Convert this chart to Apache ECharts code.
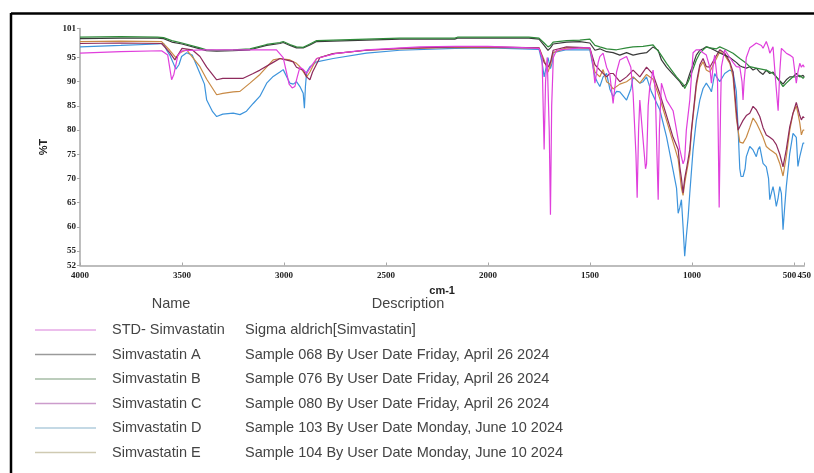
<!DOCTYPE html>
<html>
<head>
<meta charset="utf-8">
<script src="https://cdn.jsdelivr.net/npm/echarts@6/dist/echarts.min.js"></script>
<style>
html,body{margin:0;padding:0;background:#fff;}
#chart{width:814px;height:473px;}
</style>
</head>
<body>
<div id="chart"></div>
<script>
// ---- tick labels ----
const xTicks = [4000, 3500, 3000, 2500, 2000, 1500, 1000, 500, 450];
const xEndTick = [450];
const yTicks = [52, 55, 60, 65, 70, 75, 80, 85, 90, 95, 101];

// ---- legend table ----
const seriesNames = ['STD- Simvastatin', 'Simvastatin A', 'Simvastatin B', 'Simvastatin C', 'Simvastatin D', 'Simvastatin E'];
const descriptions = [
  'Sigma aldrich[Simvastatin]',
  'Sample 068 By User Date Friday, April 26 2024',
  'Sample 076 By User Date Friday, April 26 2024',
  'Sample 080 By User Date Friday, April 26 2024',
  'Sample 103 By User Date Monday, June 10 2024',
  'Sample 104 By User Date Monday, June 10 2024'
];

// ---- STD- Simvastatin ----
const stdWn = [4000,3800,3600,3570,3551,3540,3520,3500,3400,3200,3037,3004,2975,2960,2947,2935,2922,2905,2889,2870,2840,2750,2596,2334,2163,2000,1800,1750,1735,1725,1718,1710,1700,1694,1688,1680,1664,1550,1501,1490,1476,1460,1452,1436,1419,1403,1387,1370,1354,1321,1300,1289,1275,1269,1262,1256,1240,1228,1223,1215,1207,1191,1180,1172,1166,1160,1150,1125,1093,1076,1060,1044,1036,1028,1011,995,979,962,946,930,913,905,895,889,875,867,860,856,840,832,815,799,783,766,755,750,745,734,717,701,685,676,660,652,636,625,619,610,603,590,578,570,562,554,538,521,505,489,481,472,464,456,450];
const stdT  = [95.9,96.2,96.4,95.5,90.4,91.5,95.5,96.4,96.6,96.6,96.6,95,89.5,88.7,89,91,93,92.5,91.7,93,94.8,95.8,96.6,97.2,97.3,97.3,97,96.9,95,76,90,95,80,62.5,85,95,96.5,97,97,95,89.7,94,95.2,95.9,93,91.5,85.5,92,94.5,95.2,93,87.6,75,66,80,86.2,78,72,73,85,89,92.4,88,75,65.6,80,89.7,86.2,84,80,76,73,74,80,86.2,96,96.6,96.6,96,95.5,93,89.7,94,95.5,90,64,85,93.1,96.6,96.6,95,94,93.1,93,90,86.2,90,95,97,97.5,98,98.3,97.5,96.9,98.3,97,95.9,96,97.2,90,84,92,96.9,96.5,95.9,95.5,95,89.7,92,93.8,93,93.5,93];

// ---- Simvastatin A ----
const aWn = [4000,3800,3620,3590,3550,3500,3412,3380,3330,3250,3167,3085,3020,3004,2971,2939,2906,2873,2840,2759,2596,2432,2163,2150,1800,1750,1725,1706,1694,1681,1615,1550,1501,1476,1452,1419,1387,1354,1321,1289,1256,1223,1191,1166,1150,1125,1093,1060,1044,1036,1028,1011,995,979,962,946,930,913,889,867,840,815,799,783,766,750,734,717,701,685,668,652,636,619,603,587,570,554,538,521,505,489,472,456,450];
const aT  = [98.9,99,99,98.9,98.2,97.8,96.8,96.4,96.3,96.4,96.6,97.5,97.9,98.1,97.5,97,97,97.6,98.3,98.4,98.6,98.8,98.8,99,99,98.8,97.5,96.5,97,97.8,98.2,98.3,98,96.5,96.8,96.2,96,95.5,96,95.5,95.8,96,97.2,96.5,94.5,93,91.5,90,89,88.6,89.5,91.7,93.5,95.5,96.5,96.8,97.2,97,96.5,96,95.5,95,94.5,94,93.3,93,92.8,93.1,92.4,92.8,92,91.5,92.4,91.7,92,91,90.2,89.5,90.4,91,91,91.7,91,91.3,91];

// ---- Simvastatin B ----
const bWn = [4000,3800,3620,3590,3550,3500,3412,3380,3330,3250,3167,3085,3020,3004,2971,2939,2906,2873,2840,2759,2596,2432,2163,2150,1800,1750,1725,1706,1694,1681,1615,1550,1501,1476,1452,1419,1370,1321,1289,1240,1191,1158,1125,1076,1044,1036,1019,1003,979,962,930,913,880,864,832,799,766,734,717,685,636,603,587,570,554,538,521,505,489,472,456,450];
const bT  = [99.2,99.3,99.2,99.1,98.5,98,97,96.6,96.5,96.6,96.8,97.7,98.1,98.3,97.7,97.2,97.1,97.8,98.5,98.6,98.8,99,99,99.2,99.2,99,98,97.2,97.5,98.2,98.5,98.6,98.8,97.5,97.2,96.8,96.6,97,97.2,97.3,97.6,95.9,93.8,91,89.5,88.6,90,91.7,94.5,95.9,97.2,97,96.8,97.2,96.6,95.9,94.8,93.8,93.1,92.8,92.4,91.7,91,90,89,89.7,90.4,91,91,91.3,90.7,91];

// ---- Simvastatin C ----
const cWn = [4000,3800,3600,3560,3535,3520,3500,3450,3412,3379,3330,3300,3249,3200,3151,3118,3053,3020,2971,2955,2939,2906,2889,2873,2860,2824,2759,2596,2432,2163,2000,1750,1725,1706,1694,1681,1615,1501,1476,1452,1419,1403,1387,1354,1321,1289,1256,1223,1191,1158,1125,1093,1068,1060,1052,1044,1036,1028,1011,1003,979,962,946,930,913,889,864,840,815,799,783,774,766,750,734,717,701,685,668,652,636,619,603,587,570,554,538,521,505,489,481,472,464,456,450];
const cT  = [97.9,98,97.9,96,94.5,95.5,96.9,96.6,95.2,93,90.4,90.7,90.7,90.7,91.7,92.4,94,94.8,94.3,94.1,93,92.4,91,90.4,92,95,95.8,96.5,96.9,97.2,97.2,97,94,93,94,96.5,97.2,97,93.5,92.4,91,91.7,91.7,90,91,92.4,91,93,91.5,87.5,83,78.5,76,72.4,70,67,70,71.8,76,80,89.7,93.5,94.8,93.1,93,94.8,96.6,95.9,94.1,92,84,80,80.7,82,83,83.5,84.9,84.2,82.8,80.5,79,78.5,78,77,75,72.4,76,80.7,83.5,85.7,84.5,83,82.1,82.8,82.5];

// ---- Simvastatin D ----
const dWn = [4000,3800,3620,3590,3575,3560,3530,3515,3502,3477,3450,3412,3390,3379,3350,3330,3300,3249,3216,3184,3151,3118,3085,3053,3020,3004,2971,2955,2939,2922,2906,2900,2895,2889,2873,2840,2759,2596,2432,2163,2000,1750,1735,1725,1715,1706,1694,1685,1681,1615,1501,1476,1465,1452,1436,1419,1403,1387,1370,1354,1321,1300,1289,1256,1240,1223,1200,1191,1158,1125,1093,1076,1068,1060,1052,1044,1036,1028,1019,1011,995,979,962,946,930,913,905,889,880,864,840,815,799,783,774,766,760,750,740,734,717,701,685,676,668,652,636,625,619,611,603,595,587,578,570,562,554,546,538,521,505,489,481,472,464,456,450];
const dT  = [97.2,97.5,97.8,97.9,96.5,95.5,92.6,93.5,95.2,96,95.5,91.7,89.5,86.2,83.8,82.8,83.3,83.5,83.2,83.9,85.5,87,89.7,91.1,92,92.5,89.7,89.5,90,89,87.6,84.5,89,92,93.1,94.1,94.8,95.9,96.5,96.9,97,96.7,94,91,93,95,92.7,94,96,96.6,96.6,91,90,89,91,91.7,88.5,86.9,88,87.9,86.2,88.5,91,89.7,90,91,88,87.6,84.2,78.6,71.7,68,62.8,64,65.6,60,53.9,58,62.1,67,75.9,82,86.2,88.6,89.7,88.6,87.9,91.7,91,90,91.7,92.4,92,88,80,72,70.4,70.4,72,74.5,76.6,75.9,74.5,76,76.6,73.1,72.4,70,65.6,67,68.3,66.5,64.2,66,68.3,66.9,59.4,64,68.3,75.2,79.3,78.5,72.5,74.5,75.9,77.3,77.3];

// ---- Simvastatin E ----
const eWn = [4000,3800,3600,3560,3530,3510,3477,3412,3379,3330,3300,3249,3216,3167,3118,3053,3020,2971,2939,2922,2889,2873,2840,2759,2596,2432,2163,1750,1725,1706,1694,1681,1615,1501,1476,1452,1436,1419,1403,1387,1354,1321,1289,1256,1223,1191,1158,1125,1093,1068,1052,1044,1036,1028,1011,1003,979,962,946,930,913,889,864,840,815,799,783,766,750,734,717,701,685,668,652,636,619,603,587,570,554,538,521,505,489,481,472,464,456,450];
const eT  = [98.3,98.4,98.3,96.5,95,96,96.6,93.1,90.5,87.3,87.6,87.9,88,89.7,91.5,94.5,94.8,94.5,93.8,93.1,91,92,94.8,95.8,96.5,96.8,97.1,97,94.5,92,93.5,96,97,96.9,92,91,92.5,90,89.5,88.5,89.5,90,91,89.7,91.5,90.5,86.5,82,77.5,74,68,66.5,69,71,75,79.5,89,93,94.1,92.4,92,94.1,96.2,95.5,93.8,91,82.5,77.5,77.3,78.5,80.5,82.5,81.5,80,78.5,76.6,76,75.5,75,73.1,70.5,74.5,80,83.5,85,83.5,81.5,79,80,80];

const pairs = (wn, t) => wn.map((w, i) => [w, t[i]]);

const plotColors = ['#e03fdc', '#3a3a3a', '#2f8a3a', '#8e2a5c', '#3d94dc', '#c88a45'];
const legendColors = ['#e6a8e6', '#9a9a9a', '#a6bca6', '#cc9ccc', '#b0ccdc', '#cfcab2'];

const seriesData = [pairs(stdWn, stdT), pairs(aWn, aT), pairs(bWn, bT), pairs(cWn, cT), pairs(dWn, dT), pairs(eWn, eT)];
const drawOrder = [4, 5, 3, 1, 2, 0];

const chart = echarts.init(document.getElementById('chart'), null, {renderer: 'canvas'});

const txtFont = '14.5px "Liberation Sans", Arial, sans-serif';
const graphics = [
  {type: 'line', shape: {x1: 11, y1: 13.5, x2: 814, y2: 13.5}, style: {stroke: '#000', lineWidth: 2.5}, z: 100},
  {type: 'line', shape: {x1: 11, y1: 13, x2: 11, y2: 473}, style: {stroke: '#000', lineWidth: 2.5}, z: 100},
  {type: 'text', x: 171, y: 304, style: {text: 'Name', fill: '#444', font: txtFont, textAlign: 'center', textVerticalAlign: 'middle'}},
  {type: 'text', x: 408, y: 304, style: {text: 'Description', fill: '#444', font: txtFont, textAlign: 'center', textVerticalAlign: 'middle'}}
];
const rowY = [330, 354.5, 379, 403.5, 428, 452.5];
seriesNames.forEach((n, i) => {
  graphics.push({type: 'line', shape: {x1: 35, y1: rowY[i], x2: 96, y2: rowY[i]}, style: {stroke: legendColors[i], lineWidth: 1.5}});
  graphics.push({type: 'text', x: 112, y: rowY[i], style: {text: n, fill: '#444', font: txtFont, textAlign: 'left', textVerticalAlign: 'middle'}});
  graphics.push({type: 'text', x: 245, y: rowY[i], style: {text: descriptions[i], fill: '#444', font: txtFont, textAlign: 'left', textVerticalAlign: 'middle'}});
});

const tickFont = {fontSize: 9, fontWeight: 'bold', color: '#222', fontFamily: '"Liberation Serif", serif'};
const mainXLabels = xTicks.filter(v => xEndTick.indexOf(v) < 0);

chart.setOption({
  animation: false,
  backgroundColor: '#fff',
  grid: {left: 80, right: 9.5, top: 28.5, bottom: 207.5, containLabel: false},
  xAxis: [{
    type: 'value', min: 450, max: 4000, inverse: true,
    name: 'cm-1', nameLocation: 'middle', nameGap: 20,
    nameTextStyle: {fontSize: 11, fontWeight: 'bold', color: '#222', fontFamily: '"Liberation Sans", Arial, sans-serif'},
    axisLine: {show: true, onZero: false, lineStyle: {color: '#a8a8a8', width: 1.5}},
    axisTick: {show: true, inside: true, length: 3, customValues: xTicks, lineStyle: {color: '#a8a8a8'}},
    axisLabel: Object.assign({
      customValues: mainXLabels, margin: 6, hideOverlap: false,
      formatter: v => (v === 500 ? '{s|500}' : String(v)),
      rich: {s: {fontSize: 9, fontWeight: 'bold', color: '#222', fontFamily: '"Liberation Serif", serif', padding: [0, 9, 0, 0]}}
    }, tickFont),
    splitLine: {show: false}
  }, {
    type: 'value', min: 450, max: 4000, inverse: true, position: 'bottom',
    axisLine: {show: false, onZero: false},
    axisTick: {show: false},
    axisLabel: Object.assign({customValues: xEndTick, margin: 6, showMinLabel: true, showMaxLabel: true, formatter: v => String(v)}, tickFont),
    splitLine: {show: false}
  }],
  yAxis: {
    type: 'value', min: 52, max: 101,
    name: '%T', nameLocation: 'middle', nameGap: 31, nameRotate: 90,
    nameTextStyle: {fontSize: 11, fontWeight: 'bold', color: '#222', fontFamily: '"Liberation Sans", Arial, sans-serif'},
    axisLine: {show: true, lineStyle: {color: '#a8a8a8', width: 1.5}},
    axisTick: {show: true, inside: false, length: 3, customValues: yTicks, lineStyle: {color: '#a8a8a8'}},
    axisLabel: Object.assign({customValues: yTicks, margin: 4, hideOverlap: false, showMinLabel: true, showMaxLabel: true, formatter: v => String(v)}, tickFont),
    splitLine: {show: false}
  },
  series: drawOrder.map(i => ({
    name: seriesNames[i],
    type: 'line',
    xAxisIndex: 0,
    data: seriesData[i],
    showSymbol: false,
    symbol: 'none',
    lineStyle: {color: plotColors[i], width: 1.2},
    itemStyle: {color: plotColors[i]},
    z: 2 + drawOrder.indexOf(i)
  })),
  graphic: graphics
});
</script>
</body>
</html>
